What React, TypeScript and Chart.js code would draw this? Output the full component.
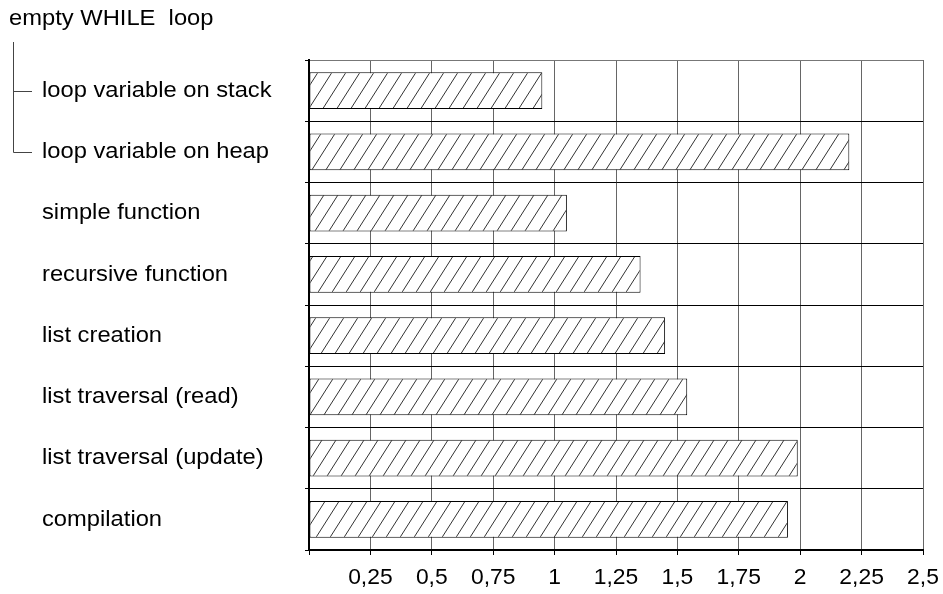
import React, { useEffect, useRef } from "react";
import { Chart, registerables } from "chart.js";

Chart.register(...registerables);

// ---- data ----
const groupTitle = "empty WHILE  loop";
const categories = [
  "loop variable on stack",
  "loop variable on heap",
  "simple function",
  "recursive function",
  "list creation",
  "list traversal (read)",
  "list traversal (update)",
  "compilation",
];
const values = [0.95, 2.2, 1.05, 1.35, 1.45, 1.54, 1.99, 1.95];
const xTickValues = [0.25, 0.5, 0.75, 1, 1.25, 1.5, 1.75, 2, 2.25, 2.5];
const xTickLabels = ["0,25", "0,5", "0,75", "1", "1,25", "1,5", "1,75", "2", "2,25", "2,5"];

const FONT = '"Liberation Sans", Arial, sans-serif';
const SX_LEFT = 1.055;
const SX_AXIS = 1.04;

function makeHatch(): CanvasPattern | string {
  const c = document.createElement("canvas");
  const w = 14;
  const h = 22;
  c.width = w;
  c.height = h;
  const g = c.getContext("2d");
  if (!g) return "#fff";
  g.fillStyle = "#fff";
  g.fillRect(0, 0, w, h);
  g.strokeStyle = "#333";
  g.lineWidth = 1;
  for (const off of [-w, 0, w]) {
    g.beginPath();
    g.moveTo(off, h);
    g.lineTo(off + w, 0);
    g.stroke();
  }
  const p = g.createPattern(c, "repeat");
  return p || "#fff";
}

function stretchedText(ctx: CanvasRenderingContext2D, txt: string, x: number, y: number, align: CanvasTextAlign, sx: number) {
  ctx.save();
  ctx.translate(x, y);
  ctx.scale(sx, 1);
  ctx.textAlign = align;
  ctx.fillText(txt, 0, 0);
  ctx.restore();
}

const labelPlugin = {
  id: "labelPlugin",
  afterDraw(chart: any) {
    const ctx: CanvasRenderingContext2D = chart.ctx;
    const ys = chart.scales.y;
    const xs = chart.scales.x;
    ctx.save();
    ctx.fillStyle = "#000";
    ctx.textBaseline = "middle";
    ctx.font = "22.5px " + FONT;
    stretchedText(ctx, groupTitle, 9, 19, "left", SX_LEFT);
    categories.forEach((c, i) => {
      stretchedText(ctx, c, 42, ys.getPixelForValue(i), "left", SX_LEFT);
    });
    ctx.font = "22px " + FONT;
    xTickValues.forEach((v, i) => {
      stretchedText(ctx, xTickLabels[i], xs.getPixelForValue(v), 578, "center", SX_AXIS);
    });
    const y0 = Math.round(ys.getPixelForValue(0)) + 0.5;
    const y1 = Math.round(ys.getPixelForValue(1)) + 0.5;
    ctx.strokeStyle = "#444";
    ctx.lineWidth = 1;
    ctx.beginPath();
    ctx.moveTo(13.5, 42);
    ctx.lineTo(13.5, y1);
    ctx.moveTo(13.5, y0);
    ctx.lineTo(32, y0);
    ctx.moveTo(13.5, y1);
    ctx.lineTo(32, y1);
    ctx.stroke();
    ctx.restore();
  },
};

export default function App() {
  const ref = useRef<HTMLCanvasElement>(null);
  useEffect(() => {
    if (!ref.current) return;
    const hatch = makeHatch();
    const chart = new Chart(ref.current, {
      type: "bar",
      data: {
        labels: categories,
        datasets: [
          {
            data: values,
            backgroundColor: hatch as any,
            borderColor: "#000",
            borderWidth: 1,
            borderSkipped: false,
            barPercentage: 0.6,
            categoryPercentage: 1,
          },
        ],
      },
      options: {
        indexAxis: "y",
        animation: false,
        responsive: false,
        layout: { padding: { top: 60, right: 20, left: 0, bottom: 0 } },
        plugins: { legend: { display: false }, tooltip: { enabled: false } },
        scales: {
          x: {
            type: "linear",
            min: 0,
            max: 2.5,
            ticks: { stepSize: 0.25, display: false },
            grid: { color: "#666", tickColor: "#000", tickLength: 5, lineWidth: 1 },
            border: { color: "#000", width: 2 },
            afterFit: (s: any) => {
              s.height = 44;
            },
          },
          y: {
            type: "category",
            ticks: { display: false },
            grid: {
              offset: true,
              color: (c: any) => (c.index === 0 ? "#777" : "#000"),
              tickColor: "#000",
              tickLength: 4,
            },
            border: { color: "#000", width: 2 },
            afterFit: (s: any) => {
              s.width = 309;
            },
          },
        },
      } as any,
      plugins: [labelPlugin],
    });
    return () => chart.destroy();
  }, []);
  return (
    <div style={{ position: "absolute", left: 0, top: 0 }}>
      <canvas ref={ref} width={943} height={594} style={{ display: "block" }} />
    </div>
  );
}
